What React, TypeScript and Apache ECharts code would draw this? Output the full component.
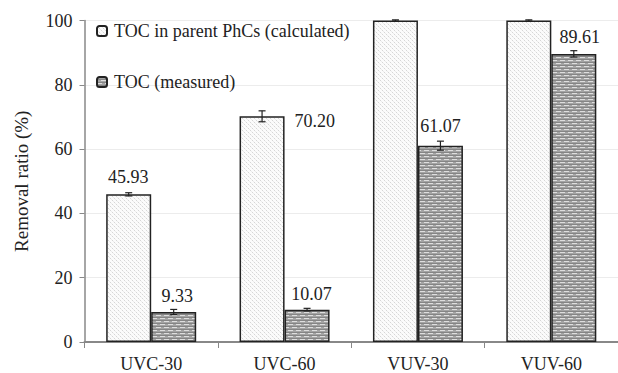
import React, { useEffect, useRef } from "react";
import * as echarts from "echarts";

const categories = ["UVC-30", "UVC-60", "VUV-30", "VUV-60"];
const calculated = [45.93, 70.2, 100, 100];
const calculatedErr = [0.5, 1.7, 0.2, 0.2];
const measured = [9.33, 10.07, 61.07, 89.61];
const measuredErr = [0.8, 0.4, 1.4, 1.0];
const calcLabels = ["45.93", "70.20", "", ""];
const measLabels = ["9.33", "10.07", "61.07", "89.61"];
const yTicks = [0, 20, 40, 60, 80, 100];

const FONT = "'Liberation Serif', 'Times New Roman', Times, serif";

function makeDots() {
  const c = document.createElement("canvas");
  c.width = 4;
  c.height = 4;
  const g = c.getContext("2d")!;
  g.fillStyle = "#fbfbfb";
  g.fillRect(0, 0, 4, 4);
  g.fillStyle = "#d6d6d6";
  g.fillRect(0, 0, 1, 1);
  g.fillRect(2, 2, 1, 1);
  g.fillStyle = "#ececec";
  g.fillRect(1, 1, 1, 1);
  g.fillRect(3, 3, 1, 1);
  return c;
}

function makeBricks() {
  const c = document.createElement("canvas");
  c.width = 8;
  c.height = 6;
  const g = c.getContext("2d")!;
  g.fillStyle = "#a4a4a4";
  g.fillRect(0, 0, 8, 6);
  g.fillStyle = "#858585";
  g.fillRect(0, 2, 8, 1);
  g.fillRect(0, 5, 8, 1);
  g.fillStyle = "#dedede";
  g.fillRect(0, 0, 5, 1);
  g.fillRect(4, 3, 4, 1);
  g.fillRect(0, 3, 1, 1);
  return c;
}

export default function App() {
  const ref = useRef<HTMLDivElement>(null);
  useEffect(() => {
    const chart = echarts.init(ref.current!, undefined, { renderer: "svg" });
    const dots = { image: makeDots(), repeat: "repeat", imageWidth: 4, imageHeight: 4 } as any;
    const bricks = { image: makeBricks(), repeat: "repeat", imageWidth: 8, imageHeight: 6 } as any;
    const barW = 45;

    const calcPos: any[] = [[22, -17], [55, 5], [22.5, -18], [22.5, -18]];
    const measPos: any[] = [[26, -16], [27, -16], [22.5, -20], [28.5, -17]];

    const errSeries = (vals: number[], errs: number[], offset: number) => ({
      type: "custom",
      z: 5,
      silent: true,
      data: vals.map((v, i) => [i, v, errs[i]]),
      renderItem: (params: any, api: any) => {
        const i = api.value(0);
        const v = api.value(1);
        const e = api.value(2);
        const top = api.coord([i, v + e]);
        const bot = api.coord([i, v - e]);
        const x = top[0] + offset;
        const cap = 3.5;
        const style = { stroke: "#222", lineWidth: 1.2 };
        return {
          type: "group",
          children: [
            { type: "line", shape: { x1: x, y1: top[1], x2: x, y2: bot[1] }, style },
            { type: "line", shape: { x1: x - cap, y1: top[1], x2: x + cap, y2: top[1] }, style },
            { type: "line", shape: { x1: x - cap, y1: bot[1], x2: x + cap, y2: bot[1] }, style },
          ],
        };
      },
    });

    chart.setOption({
      animation: false,
      textStyle: { fontFamily: FONT },
      grid: { left: 84.5, top: 20.5, width: 536, height: 324.5 },
      legend: {
        orient: "vertical",
        left: 91,
        top: 16,
        itemWidth: 10,
        itemHeight: 10,
        itemGap: 31,
        data: ["TOC in parent PhCs (calculated)", "TOC (measured)"],
        textStyle: { fontFamily: FONT, fontSize: 18, color: "#222", lineHeight: 20, padding: [0, 0, 0, 2] },
      },
      xAxis: {
        type: "category",
        data: categories,
        axisLine: { lineStyle: { color: "#888", width: 2 } },
        axisTick: { show: true, length: 6, lineStyle: { color: "#888" } },
        axisLabel: { fontFamily: FONT, fontSize: 18, color: "#222", margin: 13 },
      },
      yAxis: {
        type: "value",
        min: yTicks[0],
        max: yTicks[yTicks.length - 1],
        interval: 20,
        name: "Removal ratio (%)",
        nameLocation: "middle",
        nameGap: 54,
        nameTextStyle: { fontFamily: FONT, fontSize: 19, color: "#222" },
        axisLine: { show: true, lineStyle: { color: "#888", width: 1.5 } },
        axisTick: { show: true, length: 5, lineStyle: { color: "#888" } },
        axisLabel: { fontFamily: FONT, fontSize: 18, color: "#222", margin: 12 },
        splitLine: { lineStyle: { color: "#ececec", width: 1 } },
      },
      series: [
        {
          name: "TOC in parent PhCs (calculated)",
          type: "bar",
          barWidth: barW,
          barGap: "0%",
          itemStyle: { color: dots, borderColor: "#222", borderWidth: 1.5 },
          data: calculated.map((v, i) => ({
            value: v,
            label: {
              show: calcLabels[i] !== "",
              position: calcPos[i],
              align: i === 1 ? "left" : "center",
              verticalAlign: "middle",
              formatter: calcLabels[i],
              fontFamily: FONT,
              fontSize: 18,
              color: "#222",
            },
          })),
        },
        {
          name: "TOC (measured)",
          type: "bar",
          barWidth: barW,
          barGap: "0%",
          itemStyle: { color: bricks, borderColor: "#222", borderWidth: 1.5 },
          data: measured.map((v, i) => ({
            value: v,
            label: {
              show: true,
              position: measPos[i],
              align: "center",
              verticalAlign: "middle",
              formatter: measLabels[i],
              fontFamily: FONT,
              fontSize: 18,
              color: "#222",
            },
          })),
        },
        errSeries(calculated, calculatedErr, -barW / 2),
        errSeries(measured, measuredErr, barW / 2),
      ],
    });
    return () => chart.dispose();
  }, []);
  return (
    <div
      ref={ref}
      style={{ position: "fixed", left: 0, top: 0, width: 618, height: 373, background: "#fff" }}
    />
  );
}
